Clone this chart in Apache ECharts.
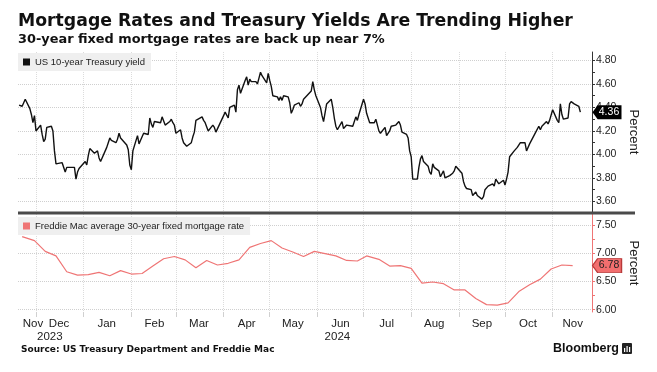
<!DOCTYPE html>
<html>
<head>
<meta charset="utf-8">
<script src="https://cdn.jsdelivr.net/npm/echarts@6/dist/echarts.min.js"></script>
<style>html,body{margin:0;padding:0;background:#fff;}#chart{width:657px;height:372px;}</style>
</head>
<body>
<div id="chart"></div>
<script>
// ---------- DATA ----------
const treasuryName = 'US 10-year Treasury yield';
const mortgageName = 'Freddie Mac average 30-year fixed mortgage rate';

const treasuryDates = [
'2023-11-20','2023-11-21','2023-11-22','2023-11-24','2023-11-27','2023-11-28','2023-11-29','2023-11-30',
'2023-12-01','2023-12-04','2023-12-05','2023-12-06','2023-12-07','2023-12-08','2023-12-11','2023-12-12','2023-12-13','2023-12-14','2023-12-15','2023-12-18','2023-12-19','2023-12-20','2023-12-21','2023-12-22','2023-12-26','2023-12-27','2023-12-28','2023-12-29',
'2024-01-02','2024-01-03','2024-01-04','2024-01-05','2024-01-08','2024-01-09','2024-01-10','2024-01-11','2024-01-12','2024-01-16','2024-01-17','2024-01-18','2024-01-19','2024-01-22','2024-01-23','2024-01-24','2024-01-25','2024-01-26','2024-01-29','2024-01-30','2024-01-31',
'2024-02-01','2024-02-02','2024-02-05','2024-02-06','2024-02-07','2024-02-08','2024-02-09','2024-02-12','2024-02-13','2024-02-14','2024-02-15','2024-02-16','2024-02-20','2024-02-21','2024-02-22','2024-02-23','2024-02-26','2024-02-27','2024-02-28','2024-02-29',
'2024-03-01','2024-03-04','2024-03-05','2024-03-06','2024-03-07','2024-03-08','2024-03-11','2024-03-12','2024-03-13','2024-03-14','2024-03-15','2024-03-18','2024-03-19','2024-03-20','2024-03-21','2024-03-22','2024-03-25','2024-03-26','2024-03-27','2024-03-28',
'2024-04-01','2024-04-02','2024-04-03','2024-04-04','2024-04-05','2024-04-08','2024-04-09','2024-04-10','2024-04-11','2024-04-12','2024-04-15','2024-04-16','2024-04-17','2024-04-18','2024-04-19','2024-04-22','2024-04-23','2024-04-24','2024-04-25','2024-04-26','2024-04-29','2024-04-30',
'2024-05-01','2024-05-02','2024-05-03','2024-05-06','2024-05-07','2024-05-08','2024-05-09','2024-05-10','2024-05-13','2024-05-14','2024-05-15','2024-05-16','2024-05-17','2024-05-20','2024-05-21','2024-05-22','2024-05-23','2024-05-24','2024-05-28','2024-05-29','2024-05-30','2024-05-31',
'2024-06-03','2024-06-04','2024-06-05','2024-06-06','2024-06-07','2024-06-10','2024-06-11','2024-06-12','2024-06-13','2024-06-14','2024-06-17','2024-06-18','2024-06-20','2024-06-21','2024-06-24','2024-06-25','2024-06-26','2024-06-27','2024-06-28',
'2024-07-01','2024-07-02','2024-07-03','2024-07-05','2024-07-08','2024-07-09','2024-07-10','2024-07-11','2024-07-12','2024-07-15','2024-07-16','2024-07-17','2024-07-18','2024-07-19','2024-07-22','2024-07-23','2024-07-24','2024-07-25','2024-07-26','2024-07-29','2024-07-30','2024-07-31',
'2024-08-01','2024-08-02','2024-08-05','2024-08-06','2024-08-07','2024-08-08','2024-08-09','2024-08-12','2024-08-13','2024-08-14','2024-08-15','2024-08-16','2024-08-19','2024-08-20','2024-08-21','2024-08-22','2024-08-23','2024-08-26','2024-08-27','2024-08-28','2024-08-29','2024-08-30',
'2024-09-03','2024-09-04','2024-09-05','2024-09-06','2024-09-09','2024-09-10','2024-09-11','2024-09-12','2024-09-13','2024-09-16','2024-09-17','2024-09-18','2024-09-19','2024-09-20','2024-09-23','2024-09-24','2024-09-25','2024-09-26','2024-09-27','2024-09-30',
'2024-10-01','2024-10-02','2024-10-03','2024-10-04','2024-10-07','2024-10-08','2024-10-09','2024-10-10','2024-10-11','2024-10-14','2024-10-15','2024-10-16','2024-10-17','2024-10-18','2024-10-21','2024-10-22','2024-10-23','2024-10-24','2024-10-25','2024-10-28','2024-10-29','2024-10-30','2024-10-31',
'2024-11-01','2024-11-04','2024-11-05','2024-11-06','2024-11-07','2024-11-08','2024-11-11','2024-11-12','2024-11-13','2024-11-14','2024-11-15','2024-11-18','2024-11-19'
];
const treasuryValues = [
4.42,4.41,4.41,4.47,4.39,4.34,4.27,4.33,
4.20,4.25,4.17,4.11,4.13,4.23,4.24,4.20,4.03,3.92,3.91,3.93,3.92,3.85,3.89,3.90,3.89,3.79,3.85,3.88,
3.94,3.91,3.99,4.05,4.01,4.02,4.03,3.97,3.94,4.06,4.10,4.14,4.12,4.10,4.13,4.18,4.14,4.15,4.08,4.04,3.91,
3.87,4.03,4.16,4.09,4.12,4.15,4.18,4.17,4.31,4.26,4.23,4.28,4.27,4.32,4.32,4.25,4.28,4.30,4.27,4.25,
4.18,4.21,4.14,4.10,4.09,4.07,4.10,4.15,4.19,4.29,4.30,4.32,4.29,4.27,4.27,4.20,4.25,4.23,4.19,4.20,
4.33,4.36,4.35,4.31,4.40,4.42,4.36,4.55,4.59,4.52,4.63,4.66,4.59,4.64,4.62,4.62,4.60,4.65,4.70,4.67,4.61,4.69,
4.63,4.58,4.50,4.49,4.46,4.49,4.46,4.50,4.49,4.44,4.35,4.38,4.42,4.44,4.41,4.43,4.47,4.46,4.54,4.62,4.55,4.50,
4.40,4.33,4.28,4.29,4.43,4.47,4.40,4.31,4.24,4.21,4.28,4.22,4.25,4.25,4.24,4.23,4.32,4.29,4.34,
4.47,4.43,4.35,4.27,4.27,4.30,4.29,4.20,4.18,4.23,4.16,4.15,4.20,4.24,4.25,4.24,4.28,4.25,4.19,4.17,4.14,4.03,
3.98,3.79,3.79,3.89,3.96,3.99,3.94,3.90,3.85,3.83,3.92,3.89,3.86,3.81,3.80,3.86,3.80,3.82,3.82,3.84,3.86,3.90,
3.84,3.77,3.73,3.71,3.70,3.65,3.65,3.68,3.65,3.62,3.64,3.70,3.71,3.73,3.75,3.73,3.79,3.79,3.75,3.78,
3.74,3.79,3.85,3.98,4.03,4.03,4.06,4.07,4.10,4.10,4.03,4.02,4.09,4.08,4.19,4.20,4.24,4.21,4.24,4.28,4.26,4.29,4.28,
4.38,4.29,4.27,4.43,4.34,4.30,4.31,4.43,4.45,4.44,4.43,4.41,4.36
];

const mortgageDates = [
'2023-11-22','2023-11-30','2023-12-07','2023-12-14','2023-12-21','2023-12-28',
'2024-01-04','2024-01-11','2024-01-18','2024-01-25','2024-02-01','2024-02-08','2024-02-15','2024-02-22','2024-02-29',
'2024-03-07','2024-03-14','2024-03-21','2024-03-28','2024-04-04','2024-04-11','2024-04-18','2024-04-25',
'2024-05-02','2024-05-09','2024-05-16','2024-05-23','2024-05-30','2024-06-06','2024-06-13','2024-06-20','2024-06-27',
'2024-07-03','2024-07-11','2024-07-18','2024-07-25','2024-08-01','2024-08-08','2024-08-15','2024-08-22','2024-08-29',
'2024-09-05','2024-09-12','2024-09-19','2024-09-26','2024-10-03','2024-10-10','2024-10-17','2024-10-24','2024-10-31',
'2024-11-07','2024-11-14'
];
const mortgageValues = [
7.29,7.22,7.03,6.95,6.67,6.61,
6.62,6.66,6.60,6.69,6.63,6.64,6.77,6.90,6.94,
6.88,6.74,6.87,6.79,6.82,6.88,7.10,7.17,
7.22,7.09,7.02,6.94,7.03,6.99,6.95,6.87,6.86,
6.95,6.89,6.77,6.78,6.73,6.47,6.49,6.46,6.35,
6.35,6.20,6.09,6.08,6.12,6.32,6.44,6.54,6.72,
6.79,6.78
];

const axisStart = '2023-11-19 07:00';
const axisEnd = '2024-11-26 14:00';
const monthStarts = ['2023-12-01','2024-01-01','2024-02-01','2024-03-01','2024-04-01','2024-05-01','2024-06-01','2024-07-01','2024-08-01','2024-09-01','2024-10-01','2024-11-01'];
const monthLabelDates = ['2023-11-29','2023-12-16','2024-01-16','2024-02-16','2024-03-16','2024-04-16','2024-05-16','2024-06-16','2024-07-16','2024-08-16','2024-09-16','2024-10-16','2024-11-14'];
const monthLabels = ['Nov','Dec','Jan','Feb','Mar','Apr','May','Jun','Jul','Aug','Sep','Oct','Nov'];
const yearLabelDates = ['2023-12-10','2024-06-14'];
const yearLabels = ['2023','2024'];

const yieldTicks = [3.6,3.8,4.0,4.2,4.4,4.6,4.8];
const yieldMinorTicks = [3.6,3.7,3.8,3.9,4.0,4.1,4.2,4.3,4.4,4.5,4.6,4.7,4.8];
const mortgageTicks = [6.0,6.5,7.0,7.5];
const mortgageMinorTicks = [6.0,6.25,6.5,6.75,7.0,7.25,7.5];

// ---------- HELPERS ----------
function toTime(s) {
  const parts = s.split(' ');
  const d = parts[0].split('-').map(Number);
  let h = 0, m = 0;
  if (parts[1]) { const hm = parts[1].split(':').map(Number); h = hm[0]; m = hm[1]; }
  return Date.UTC(d[0], d[1] - 1, d[2], h, m);
}
const xMin = toTime(axisStart), xMax = toTime(axisEnd);
const monthStartTimes = monthStarts.map(toTime);
const monthLabelTimes = monthLabelDates.map(toTime);
const yearLabelTimes = yearLabelDates.map(toTime);
const treasuryData = treasuryDates.map((d, i) => [toTime(d), treasuryValues[i]]);
const mortgageData = mortgageDates.map((d, i) => [toTime(d), mortgageValues[i]]);
const lastTreasury = treasuryValues[treasuryValues.length - 1];
const lastMortgage = mortgageValues[mortgageValues.length - 1];

const LABEL_FONT = 'Liberation Sans, Arial, sans-serif';
const TEXT = '#222';
const SALMON = '#ef7575';
const GRID_LEFT = 18, GRID_RIGHT = 65;

function findLabel(times, labels, v) {
  let best = 0, bd = Infinity;
  times.forEach((t, i) => { const dd = Math.abs(t - v); if (dd < bd) { bd = dd; best = i; } });
  return labels[best];
}

const chart = echarts.init(document.getElementById('chart'), null, { renderer: 'canvas' });

const tagPath = 'path://M0,7L6,0H34V14H6Z';

const option = {
  animation: false,
  backgroundColor: '#fff',
  title: {
    text: 'Mortgage Rates and Treasury Yields Are Trending Higher',
    subtext: '30-year fixed mortgage rates are back up near 7%',
    left: 13, top: 13.5, itemGap: 3, padding: [0, 5, 0, 5],
    textStyle: { fontFamily: 'DejaVu Sans', fontWeight: 'bold', fontSize: 17.3, color: '#111' },
    subtextStyle: { fontFamily: 'DejaVu Sans', fontWeight: 'bold', fontSize: 12.9, color: '#111' }
  },
  legend: [
    {
      data: [treasuryName], left: GRID_LEFT, top: 53,
      backgroundColor: '#efefef', padding: [4, 6, 4, 5],
      icon: 'rect', itemWidth: 7, itemHeight: 7, itemGap: 2,
      textStyle: { fontFamily: LABEL_FONT, fontSize: 9.5, color: TEXT },
      selectedMode: false
    },
    {
      data: [mortgageName], left: GRID_LEFT, top: 217,
      backgroundColor: '#efefef', padding: [4, 6, 4, 5],
      icon: 'rect', itemWidth: 7, itemHeight: 7, itemGap: 2,
      textStyle: { fontFamily: LABEL_FONT, fontSize: 9.5, color: TEXT },
      selectedMode: false
    }
  ],
  grid: [
    { left: GRID_LEFT, right: GRID_RIGHT, top: 52, height: 160, containLabel: false },
    { left: GRID_LEFT, right: GRID_RIGHT, top: 214, height: 98, containLabel: false }
  ],
  xAxis: [
    {
      type: 'value', gridIndex: 0, min: xMin, max: xMax, scale: true,
      axisLine: { show: false },
      axisTick: { show: false, customValues: monthStartTimes },
      axisLabel: { show: false },
      splitLine: { show: true, lineStyle: { color: '#dcdcdc', type: 'dotted', width: 1 } }
    },
    {
      type: 'value', gridIndex: 1, min: xMin, max: xMax, scale: true, position: 'bottom',
      axisLine: { show: false },
      axisTick: { show: true, length: 5, customValues: monthStartTimes, lineStyle: { color: '#d0d0d0' } },
      axisLabel: {
        show: true, customValues: monthLabelTimes, margin: 6,
        fontFamily: LABEL_FONT, fontSize: 11.5, color: TEXT,
        formatter: (v) => findLabel(monthLabelTimes, monthLabels, v)
      },
      splitLine: { show: true, lineStyle: { color: '#dcdcdc', type: 'dotted', width: 1 } }
    },
    {
      type: 'value', gridIndex: 1, min: xMin, max: xMax, scale: true, position: 'bottom', offset: 13,
      axisLine: { show: false },
      axisTick: { show: false },
      splitLine: { show: false },
      axisLabel: {
        show: true, customValues: yearLabelTimes, margin: 6,
        fontFamily: LABEL_FONT, fontSize: 11.5, color: TEXT,
        formatter: (v) => findLabel(yearLabelTimes, yearLabels, v)
      }
    }
  ],
  yAxis: [
    {
      type: 'value', gridIndex: 0, position: 'right', min: 3.51, max: 4.872,
      axisLine: { show: true, lineStyle: { color: '#333', width: 1 } },
      axisTick: { show: false, customValues: yieldTicks },
      axisLabel: {
        show: true, customValues: yieldTicks, margin: 4,
        fontFamily: LABEL_FONT, fontSize: 10.5, color: TEXT,
        formatter: (v) => Number(v).toFixed(2)
      },
      splitLine: { show: true, lineStyle: { color: '#cfcfcf', type: 'dotted', width: 1 } },
      name: 'Percent', nameLocation: 'middle', nameRotate: -90, nameGap: 24,
      nameTextStyle: { fontFamily: LABEL_FONT, fontSize: 13, color: TEXT }
    },
    {
      type: 'value', gridIndex: 0, position: 'right', min: 3.51, max: 4.872,
      axisLine: { show: false },
      axisTick: { show: true, length: 3, customValues: yieldMinorTicks, lineStyle: { color: '#333' } },
      axisLabel: { show: false },
      splitLine: { show: false }
    },
    {
      type: 'value', gridIndex: 1, position: 'right', min: 5.96, max: 7.69,
      axisLine: { show: true, lineStyle: { color: SALMON, width: 1 } },
      axisTick: { show: false, customValues: mortgageTicks },
      axisLabel: {
        show: true, customValues: mortgageTicks, margin: 4,
        fontFamily: LABEL_FONT, fontSize: 10.5, color: TEXT,
        formatter: (v) => Number(v).toFixed(2)
      },
      splitLine: { show: true, lineStyle: { color: '#cfcfcf', type: 'dotted', width: 1 } },
      name: 'Percent', nameLocation: 'middle', nameRotate: -90, nameGap: 24,
      nameTextStyle: { fontFamily: LABEL_FONT, fontSize: 13, color: TEXT }
    },
    {
      type: 'value', gridIndex: 1, position: 'right', min: 5.96, max: 7.69,
      axisLine: { show: false },
      axisTick: { show: true, length: 3, customValues: mortgageMinorTicks, lineStyle: { color: SALMON } },
      axisLabel: { show: false },
      splitLine: { show: false }
    }
  ],
  series: [
    {
      name: treasuryName, type: 'line', xAxisIndex: 0, yAxisIndex: 0,
      data: treasuryData, showSymbol: false, symbol: 'none',
      itemStyle: { color: '#111' },
      lineStyle: { color: '#111', width: 1.4 },
      z: 3,
      markPoint: {
        silent: true, symbol: tagPath, symbolSize: [29, 14], symbolOffset: [15, 0], symbolKeepAspect: false,
        itemStyle: { color: '#000' },
        label: { show: true, position: 'inside', offset: [2, 0], color: '#fff', fontFamily: LABEL_FONT, fontSize: 10.5,
                 formatter: (p) => Number(p.value).toFixed(2) },
        data: [{ coord: [xMax, lastTreasury], value: lastTreasury }]
      }
    },
    {
      name: mortgageName, type: 'line', xAxisIndex: 1, yAxisIndex: 2,
      data: mortgageData, showSymbol: false, symbol: 'none',
      itemStyle: { color: SALMON },
      lineStyle: { color: SALMON, width: 1.2 },
      z: 3,
      markPoint: {
        silent: true, symbol: tagPath, symbolSize: [29, 14], symbolOffset: [15, 0], symbolKeepAspect: false,
        itemStyle: { color: '#f26e6e', borderColor: '#b83a3a', borderWidth: 1 },
        label: { show: true, position: 'inside', offset: [2, 0], color: '#222', fontFamily: LABEL_FONT, fontSize: 10.5,
                 formatter: (p) => Number(p.value).toFixed(2) },
        data: [{ coord: [xMax, lastMortgage], value: lastMortgage }]
      }
    }
  ],
  graphic: [
    { type: 'rect', shape: { x: 18, y: 211.5, width: 617, height: 3 }, style: { fill: '#4a4a4a' }, z: 10 },
    { type: 'text', x: 21, y: 350, style: { text: 'Source: US Treasury Department and Freddie Mac', font: 'bold 9px "DejaVu Sans"', fill: '#111', textVerticalAlign: 'middle' } },
    { type: 'text', x: 619, y: 349, style: { text: 'Bloomberg', font: 'bold 12.5px "Liberation Sans"', fill: '#111', textAlign: 'right', textVerticalAlign: 'middle' } },
    { type: 'rect', shape: { x: 622, y: 343, width: 10, height: 11, r: 1 }, style: { fill: '#222' } },
    { type: 'rect', shape: { x: 624, y: 348, width: 1.2, height: 4 }, style: { fill: '#fff' } },
    { type: 'rect', shape: { x: 626.5, y: 346, width: 1.2, height: 6 }, style: { fill: '#fff' } },
    { type: 'rect', shape: { x: 629, y: 347, width: 1.2, height: 5 }, style: { fill: '#fff' } }
  ]
};
chart.setOption(option);
</script>
</body>
</html>
